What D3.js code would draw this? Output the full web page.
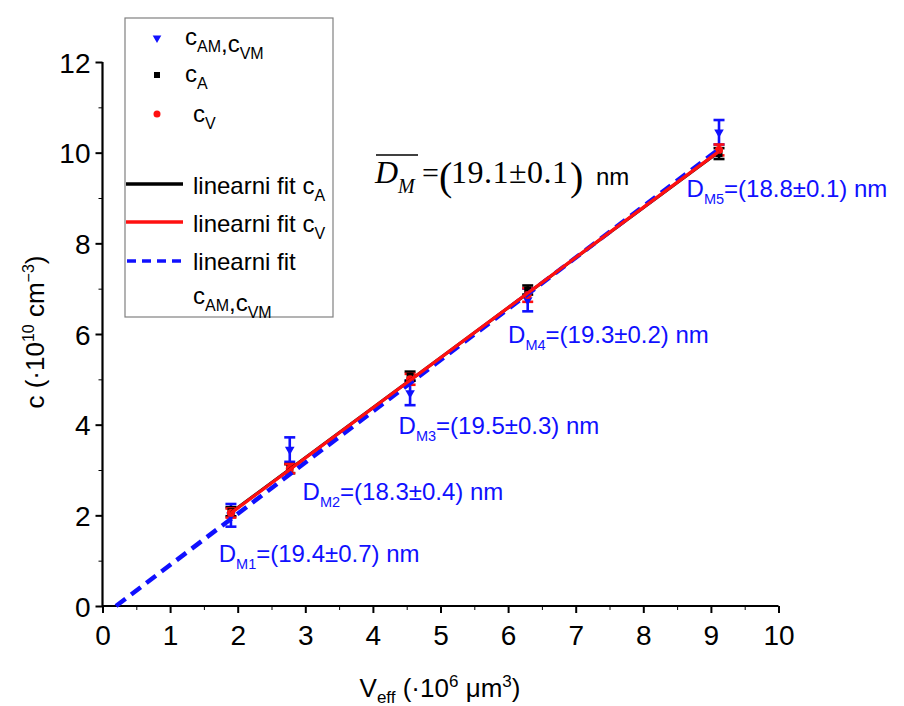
<!DOCTYPE html>
<html>
<head>
<meta charset="utf-8">
<script src="https://cdn.jsdelivr.net/npm/d3@7"></script>
<style>
  body { margin: 0; background: #fff; }
  svg { display: block; font-family: "Liberation Sans", Arial, sans-serif; }
</style>
</head>
<body>
<svg id="chart" width="904" height="706"></svg>
<script>
// ---------- data ----------
const vEff = [1.9, 2.77, 4.55, 6.29, 9.12];
const cAM = [2.0, 3.45, 4.7, 6.75, 10.45];
const cAMerr = [0.25, 0.27, 0.27, 0.25, 0.27];
const cA = [2.08, 3.03, 5.07, 6.97, 9.98];
const cAerr = [0.1, 0.1, 0.1, 0.1, 0.12];
const cV = [2.05, 3.03, 5.0, 6.86, 10.06];
const cVerr = [0.1, 0.1, 0.12, 0.15, 0.12];
// fit line endpoints [x, c]
const fitA = [[1.9, 2.06], [9.12, 10.02]];
const fitV = [[1.9, 2.05], [9.12, 10.03]];
const fitAM = [[0.2, 0.0], [9.12, 10.08]];
const xTicks = [0,1,2,3,4,5,6,7,8,9,10];
const yTicks = [0,2,4,6,8,10,12];
const annLabels = ["M1","M2","M3","M4","M5"];
const annValues = ["(19.4±0.7) nm","(18.3±0.4) nm","(19.5±0.3) nm","(19.3±0.2) nm","(18.8±0.1) nm"];
const annPos = [[1.72, 0.98], [2.96, 2.33], [4.38, 3.8], [6.0, 5.8], [8.64, 9.03]];

// ---------- setup ----------
const svg = d3.select("#chart");
const x = d3.scaleLinear().domain([0, 10]).range([102.5, 778.5]);
const y = d3.scaleLinear().domain([0, 12]).range([606, 62]);
const BLUE = "#1010ff", RED = "#ff1010", BLACK = "#000";

// axes
const xAxis = d3.axisBottom(x).tickValues(xTicks).tickSize(7).tickSizeOuter(0).tickFormat(d3.format("d"));
const xMinor = d3.axisBottom(x).tickValues(d3.range(0.5, 10, 1)).tickSize(4).tickFormat("");
const gx = svg.append("g").attr("transform", "translate(0,606)");
gx.call(xAxis);
svg.append("g").attr("transform", "translate(0,606)").call(xMinor).select(".domain").remove();
gx.select(".domain").attr("stroke-width", 2.2).attr("d", "M102.5,0H778.5");
gx.selectAll(".tick line").attr("stroke-width", 2);
gx.selectAll(".tick text").attr("font-size", 28).attr("dy", "29px").attr("fill", "#000");

const yAxis = d3.axisLeft(y).tickValues(yTicks).tickSize(7).tickSizeOuter(0);
const yMinor = d3.axisLeft(y).tickValues([1,3,5,7,9,11]).tickSize(4).tickFormat("");
const gy = svg.append("g").attr("transform", "translate(102.5,0)");
gy.call(yAxis);
svg.append("g").attr("transform", "translate(102.5,0)").call(yMinor).select(".domain").remove();
gy.select(".domain").attr("stroke-width", 2.2).attr("d", "M0,606V62");
gy.selectAll(".tick line").attr("stroke-width", 2);
gy.selectAll(".tick text").attr("font-size", 28).attr("dx", "-2px").attr("dy", "0.36em").attr("fill", "#000");
svg.selectAll(".tick line").attr("stroke", "#000");
svg.selectAll(".domain").attr("stroke", "#000");

// axis titles
const xt = svg.append("text").attr("x", 440).attr("y", 697).attr("text-anchor", "middle").attr("font-size", 26);
xt.append("tspan").text("V");
xt.append("tspan").attr("font-size", 17).attr("dy", 6).text("eff");
xt.append("tspan").attr("dy", -6).text(" (·10");
xt.append("tspan").attr("font-size", 17).attr("dy", -10).text("6");
xt.append("tspan").attr("dy", 10).text(" μm");
xt.append("tspan").attr("font-size", 17).attr("dy", -10).text("3");
xt.append("tspan").attr("dy", 10).text(")");

const yt = svg.append("text").attr("transform", "translate(44,332) rotate(-90)").attr("text-anchor", "middle").attr("font-size", 26);
yt.append("tspan").text("c (·10");
yt.append("tspan").attr("font-size", 16).attr("dy", -10).text("10");
yt.append("tspan").attr("dy", 10).text(" cm");
yt.append("tspan").attr("font-size", 16).attr("dy", -10).text("−3");
yt.append("tspan").attr("dy", 10).text(")");

// ---------- error bars & points ----------
function errorBars(vals, errs, color, cap, sw) {
  const g = svg.append("g").attr("stroke", color).attr("stroke-width", sw).attr("fill", "none");
  vals.forEach((v, i) => {
    const cx = x(vEff[i]);
    const y1 = y(v + errs[i]), y2 = y(v - errs[i]);
    g.append("line").attr("x1", cx).attr("x2", cx).attr("y1", y1).attr("y2", y2);
    g.append("line").attr("x1", cx - cap).attr("x2", cx + cap).attr("y1", y1).attr("y2", y1);
    g.append("line").attr("x1", cx - cap).attr("x2", cx + cap).attr("y1", y2).attr("y2", y2);
  });
}
errorBars(cAM, cAMerr, BLUE, 5.5, 2.6);
errorBars(cA, cAerr, BLACK, 5.5, 2.6);
errorBars(cV, cVerr, RED, 5.5, 2.6);

const triDown = d3.symbol().type(d3.symbolTriangle).size(40);
svg.append("g").selectAll("path").data(cAM).join("path")
  .attr("d", triDown)
  .attr("transform", (d, i) => `translate(${x(vEff[i])},${y(d)}) rotate(180)`)
  .attr("fill", BLUE);
svg.append("g").selectAll("rect").data(cA).join("rect")
  .attr("x", (d, i) => x(vEff[i]) - 3.5).attr("y", d => y(d) - 3.5)
  .attr("width", 7).attr("height", 7).attr("fill", BLACK);
svg.append("g").selectAll("circle").data(cV).join("circle")
  .attr("cx", (d, i) => x(vEff[i])).attr("cy", d => y(d)).attr("r", 4).attr("fill", RED);

// ---------- fit lines ----------
const line = d3.line().x(d => x(d[0])).y(d => y(d[1]));
svg.append("path").attr("d", line(fitA)).attr("stroke", BLACK).attr("stroke-width", 3).attr("fill", "none");
svg.append("path").attr("d", line(fitAM)).attr("stroke", BLUE).attr("stroke-width", 4.5).attr("stroke-dasharray", "12,7").attr("fill", "none");
svg.append("path").attr("d", line(fitV)).attr("stroke", RED).attr("stroke-width", 3.3).attr("fill", "none");

// ---------- annotations ----------
annLabels.forEach((lab, i) => {
  const t = svg.append("text").attr("x", x(annPos[i][0])).attr("y", y(annPos[i][1]))
    .attr("font-size", 24).attr("fill", BLUE);
  t.append("tspan").text("D");
  t.append("tspan").attr("font-size", 14.5).attr("dy", 7).text(lab);
  t.append("tspan").attr("dy", -7).text("=" + annValues[i]);
});

// mean D_M annotation
const SERIF = "Liberation Serif, Times New Roman, serif";
const mg = svg.append("g").attr("font-family", SERIF);
mg.append("text").attr("x", 375).attr("y", 183).attr("font-style", "italic").attr("font-size", 32).text("D");
mg.append("text").attr("x", 398).attr("y", 193).attr("font-style", "italic").attr("font-size", 20).text("M");
mg.append("line").attr("x1", 376).attr("x2", 418).attr("y1", 155).attr("y2", 155).attr("stroke", "#000").attr("stroke-width", 1.4);
mg.append("text").attr("x", 422).attr("y", 183).attr("font-size", 30).text("=");
mg.append("text").attr("x", 439).attr("y", 190).attr("font-size", 40).text("(");
mg.append("text").attr("x", 451).attr("y", 183).attr("font-size", 32)
  .attr("textLength", 117).attr("lengthAdjust", "spacing").text("19.1±0.1");
mg.append("text").attr("x", 570).attr("y", 190).attr("font-size", 40).text(")");
svg.append("text").attr("x", 596).attr("y", 185).attr("font-size", 24).text("nm");

// ---------- legend ----------
const lg = svg.append("g");
lg.append("rect").attr("x", 125).attr("y", 18).attr("width", 208).attr("height", 299)
  .attr("fill", "none").attr("stroke", "#808080").attr("stroke-width", 1.2);
lg.append("path").attr("d", triDown).attr("transform", "translate(157,38) rotate(180) scale(0.9)").attr("fill", BLUE);
lg.append("rect").attr("x", 154).attr("y", 72).attr("width", 6).attr("height", 6).attr("fill", BLACK);
lg.append("circle").attr("cx", 157).attr("cy", 114).attr("r", 3.5).attr("fill", RED);

function subText(xp, yp, parts, fs) {
  const t = lg.append("text").attr("x", xp).attr("y", yp).attr("font-size", fs);
  parts.forEach(p => {
    if (p.sub) {
      t.append("tspan").attr("font-size", 16).attr("dy", 7).text(p.t);
      t.append("tspan").attr("dy", -7).text("");
    } else t.append("tspan").text(p.t);
  });
  return t;
}
subText(185, 45, [{t:"c"},{t:"AM",sub:true},{t:",c"},{t:"VM",sub:true}], 24);
subText(185, 82, [{t:"c"},{t:"A",sub:true}], 24);
subText(193, 122, [{t:"c"},{t:"V",sub:true}], 24);

lg.append("line").attr("x1", 126).attr("x2", 183).attr("y1", 184).attr("y2", 184).attr("stroke", BLACK).attr("stroke-width", 3.5);
lg.append("line").attr("x1", 126).attr("x2", 183).attr("y1", 222).attr("y2", 222).attr("stroke", RED).attr("stroke-width", 3.5);
lg.append("line").attr("x1", 127).attr("x2", 183).attr("y1", 261).attr("y2", 261).attr("stroke", BLUE).attr("stroke-width", 3.5).attr("stroke-dasharray", "9,6");
subText(193, 194, [{t:"linearni fit c"},{t:"A",sub:true}], 24);
subText(193, 232, [{t:"linearni fit c"},{t:"V",sub:true}], 24);
subText(193, 270, [{t:"linearni fit"}], 24);
subText(193, 304, [{t:"c"},{t:"AM",sub:true},{t:",c"},{t:"VM",sub:true}], 24);
</script>
</body>
</html>
